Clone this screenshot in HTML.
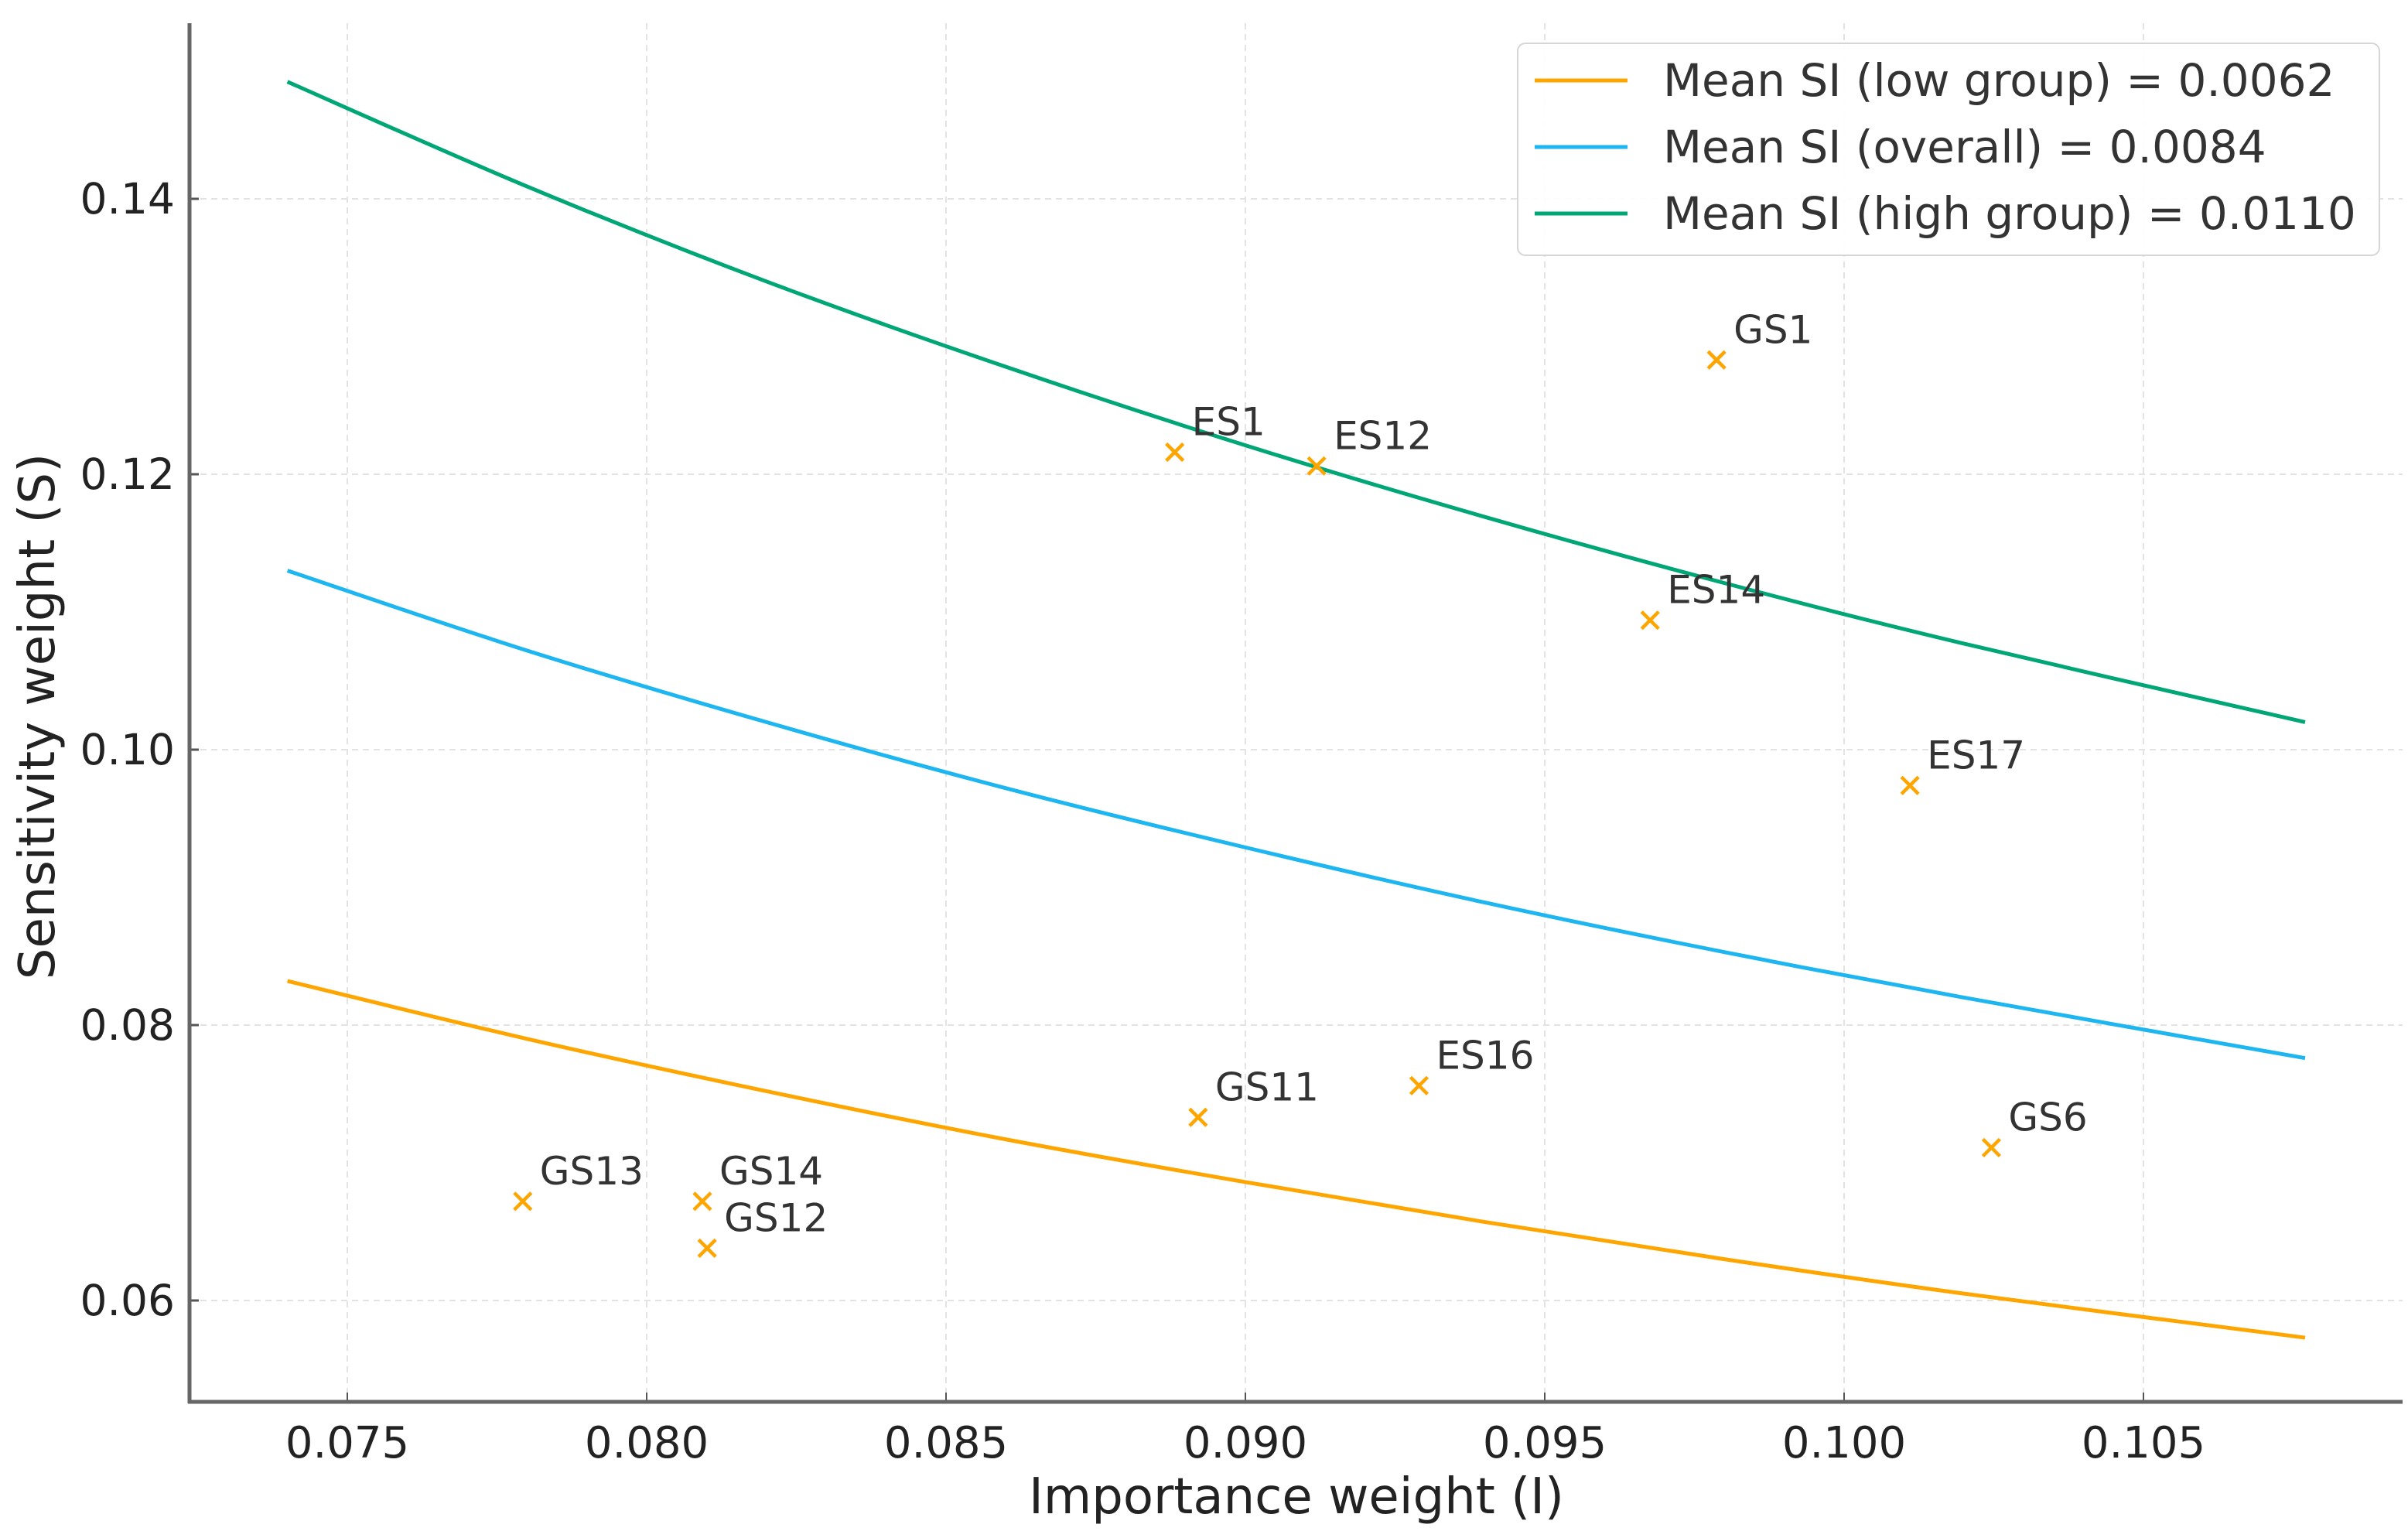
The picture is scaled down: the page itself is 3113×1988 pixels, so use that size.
<!DOCTYPE html>
<html><head><meta charset="utf-8"><style>
html,body{margin:0;padding:0;background:#fff;}
svg{display:block;font-family:"DejaVu Sans","Liberation Sans",sans-serif;}
</style></head><body>
<svg id="chart" width="3113" height="1988" viewBox="0 0 3113 1988" xmlns="http://www.w3.org/2000/svg">
<rect x="0" y="0" width="3113" height="1988" fill="#fff"/>
<g id="grid"></g>
<g id="curves"></g>
<g id="points"></g>
<g id="axes"></g>
<text x="1676" y="1956" font-size="64" text-anchor="middle" fill="#222">Importance weight (I)</text>
<text transform="translate(70,926) rotate(-90)" font-size="64" text-anchor="middle" fill="#222">Sensitivity weight (S)</text>
<g id="legend"></g>
</svg>
<script>
const xTicks = [0.075, 0.080, 0.085, 0.090, 0.095, 0.100, 0.105];
const xTickLabels = ["0.075", "0.080", "0.085", "0.090", "0.095", "0.100", "0.105"];
const yTicks = [0.06, 0.08, 0.10, 0.12, 0.14];
const yTickLabels = ["0.06", "0.08", "0.10", "0.12", "0.14"];
const curveX = [0.074, 0.078, 0.082, 0.086, 0.090, 0.094, 0.098, 0.102, 0.1077];
const lowY = [0.0832, 0.0790, 0.0752, 0.0717, 0.0686, 0.0657, 0.0630, 0.0605, 0.0573];
const overallY = [0.1130, 0.1072, 0.1020, 0.0972, 0.0929, 0.0889, 0.0853, 0.0820, 0.0776];
const highY = [0.1485, 0.1409, 0.1340, 0.1278, 0.1221, 0.1169, 0.1121, 0.1077, 0.1020];
const seriesLabels = ["Mean SI (low group) = 0.0062", "Mean SI (overall) = 0.0084", "Mean SI (high group) = 0.0110"];
const pointNames = ["GS1", "ES1", "ES12", "ES14", "ES17", "ES16", "GS11", "GS6", "GS13", "GS14", "GS12"];
const pointI = [0.09787, 0.08882, 0.09119, 0.09676, 0.1011, 0.09290, 0.08921, 0.10246, 0.07793, 0.08093, 0.08101];
const pointS = [0.1283, 0.1216, 0.1206, 0.1094, 0.0974, 0.0756, 0.0733, 0.0711, 0.0672, 0.0672, 0.0638];

const NS = "http://www.w3.org/2000/svg";
const X0 = 449, XPX = 387 / 0.005;
const Y0 = 1681, YPX = 356 / 0.02;
function sx(v) { return X0 + (v - 0.075) * XPX; }
function sy(v) { return Y0 - (v - 0.06) * YPX; }
const L = 245, R = 3106, T = 30, B = 1812;
function mk(tag, attrs, parent) {
  const e = document.createElementNS(NS, tag);
  for (const k in attrs) e.setAttribute(k, attrs[k]);
  parent.appendChild(e);
  return e;
}
const grid = document.getElementById('grid');
const axes = document.getElementById('axes');
xTicks.forEach((t, i) => {
  const x = sx(t);
  const g = mk('line', {x1: x, x2: x, y1: T, y2: B, stroke: '#e3e3e3', 'stroke-width': 2, 'stroke-dasharray': '8,6'}, grid);
  
  
  const tk = mk('line', {x1: x, x2: x, y1: B, y2: B - 12, stroke: '#555', 'stroke-width': 2}, axes);
  
  
  const tx = mk('text', {x: x, y: B + 72, 'font-size': 56, 'text-anchor': 'middle', fill: '#222'}, axes);
  tx.textContent = xTickLabels[i];
  
  
});
yTicks.forEach((t, i) => {
  const y = sy(t);
  const g = mk('line', {x1: L, x2: R, y1: y, y2: y, stroke: '#e3e3e3', 'stroke-width': 2, 'stroke-dasharray': '8,6'}, grid);
  
  
  const tk = mk('line', {x1: L, x2: L + 12, y1: y, y2: y, stroke: '#555', 'stroke-width': 3}, axes);
  
  
  const tx = mk('text', {x: 226, y: y + 19, 'font-size': 55, 'text-anchor': 'end', fill: '#222'}, axes);
  tx.textContent = yTickLabels[i];
  
  
});
const sp1 = mk('line', {x1: L, x2: L, y1: T, y2: B + 2, stroke: '#666', 'stroke-width': 5}, axes);


const sp2 = mk('line', {x1: L - 2, x2: R, y1: B, y2: B, stroke: '#666', 'stroke-width': 5}, axes);



const colors = ['#FFA500', '#1EB6F0', '#00A676'];
const seriesY = [lowY, overallY, highY];
const names = ['low-group-curve', 'overall-curve', 'high-group-curve'];
const curves = document.getElementById('curves');
function smoothPath(pts) {
  let d = 'M' + pts[0][0] + ',' + pts[0][1];
  for (let i = 0; i < pts.length - 1; i++) {
    const p0 = pts[i - 1] || pts[i], p1 = pts[i], p2 = pts[i + 1], p3 = pts[i + 2] || p2;
    const c1 = [p1[0] + (p2[0] - p0[0]) / 6, p1[1] + (p2[1] - p0[1]) / 6];
    const c2 = [p2[0] - (p3[0] - p1[0]) / 6, p2[1] - (p3[1] - p1[1]) / 6];
    d += ' C' + c1[0] + ',' + c1[1] + ' ' + c2[0] + ',' + c2[1] + ' ' + p2[0] + ',' + p2[1];
  }
  return d;
}
seriesY.forEach((ys, s) => {
  const pts = curveX.map((x, i) => [sx(x), sy(ys[i])]);
  const p = mk('path', {d: smoothPath(pts), fill: 'none', stroke: colors[s], 'stroke-width': 5}, curves);
  
  
});

const pts = document.getElementById('points');
pointNames.forEach((n, i) => {
  const x = sx(pointI[i]), y = sy(pointS[i]);
  const g = mk('g', {}, pts);
  
  
  const h = 11;
  mk('path', {d: `M${x-h},${y-h} L${x+h},${y+h} M${x-h},${y+h} L${x+h},${y-h}`, stroke: '#FFA500', 'stroke-width': 4.5, fill: 'none'}, g);
  const t = mk('text', {x: x + 22, y: y - 22, 'font-size': 50, fill: '#333'}, g);
  t.textContent = n;
  
  
});

const lg = document.getElementById('legend');
const box = mk('rect', {x: 1962, y: 56, width: 1114, height: 274, rx: 10, fill: '#fff', 'fill-opacity': 0.9, stroke: '#d6d6d6', 'stroke-width': 2}, lg);


seriesLabels.forEach((lab, s) => {
  const y = 104 + s * 86;
  const g = mk('g', {}, lg);
  
  
  mk('line', {x1: 1984, x2: 2104, y1: y, y2: y, stroke: colors[s], 'stroke-width': 5}, g);
  const t = mk('text', {x: 2150, y: y + 20, 'font-size': 58, fill: '#333'}, g);
  t.textContent = lab;
});
</script>
</body></html>
